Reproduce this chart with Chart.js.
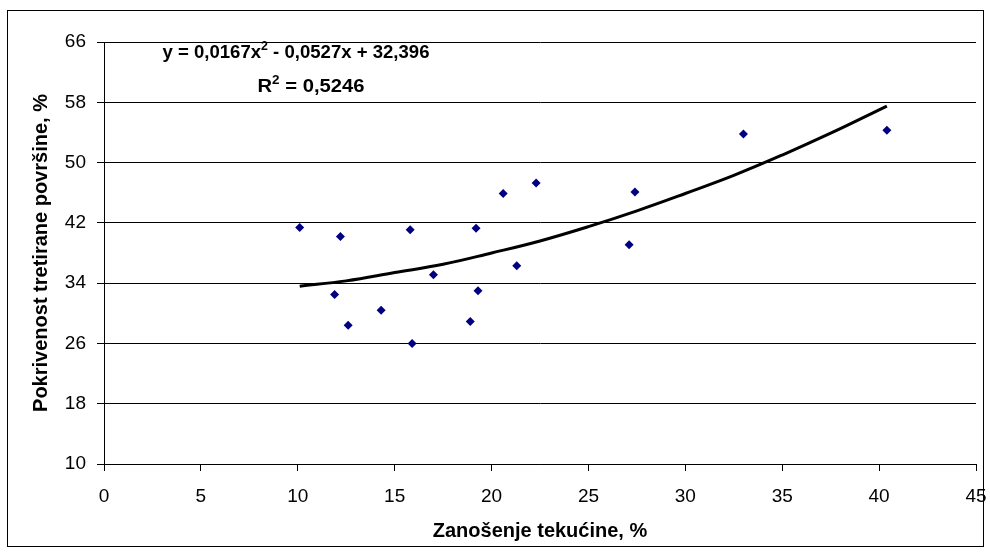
<!DOCTYPE html>
<html>
<head>
<meta charset="utf-8">
<script src="https://cdn.jsdelivr.net/npm/chart.js@4/dist/chart.umd.min.js"></script>
<style>
  body { margin: 0; background: #fff; }
</style>
</head>
<body>
<canvas id="chart" width="990" height="555"></canvas>
<script>
// measured points (x = Zanošenje tekućine, y = Pokrivenost)
var drift = [10.1, 12.2, 11.9, 12.6, 14.3, 15.8, 15.9, 17.0, 18.9, 19.2, 19.3, 20.6, 21.3, 22.3, 27.1, 27.4, 33.0, 40.4];
var coverage = [41.4, 40.2, 32.5, 28.4, 30.4, 41.1, 26.0, 35.1, 28.9, 41.3, 33.0, 45.9, 36.3, 47.3, 39.1, 46.1, 53.8, 54.3];

// trend line
var trendX = [10.1, 12.5, 15, 17.5, 20, 22.5, 25, 27.5, 30, 32.5, 35, 37.5, 40.4];
var trendY = [33.6, 34.3, 35.4, 36.5, 38.0, 39.6, 41.5, 43.6, 45.9, 48.3, 51.0, 53.9, 57.5];

var yTicks = [10, 18, 26, 34, 42, 50, 58, 66];

// trend label pieces: [text, superscript]
var eqParts = [['y = 0,0167x', false], ['2', true], [' - 0,0527x + 32,396', false]];
var r2Parts = [['R', false], ['2', true], [' = 0,5246', false]];

var FONT = '"Liberation Sans", Arial, sans-serif';

var points = drift.map(function(x, i){ return {x: x, y: coverage[i]}; });
var trend = trendX.map(function(x, i){ return {x: x, y: trendY[i]}; });

function drawParts(ctx, parts, cx, baseline, targetW){
    var widths = parts.map(function(p){
        ctx.font = p[1] ? 'bold 12px ' + FONT : 'bold 18px ' + FONT;
        return ctx.measureText(p[0]).width;
    });
    var total = widths.reduce(function(a, b){ return a + b; }, 0);
    var sx = targetW / total;
    ctx.save();
    ctx.translate(cx - targetW / 2, baseline);
    ctx.scale(sx, 1);
    var x = 0;
    parts.forEach(function(p, i){
        ctx.font = p[1] ? 'bold 12px ' + FONT : 'bold 18px ' + FONT;
        ctx.fillText(p[0], x, p[1] ? -8 : 0);
        x += widths[i];
    });
    ctx.restore();
}

var extras = {
    id: 'extras',
    beforeDraw: function(chart){
        var ctx = chart.ctx;
        ctx.save();
        ctx.fillStyle = '#fff';
        ctx.fillRect(0, 0, chart.width, chart.height);
        ctx.restore();
    },
    afterDraw: function(chart){
        var ctx = chart.ctx;
        ctx.save();
        ctx.strokeStyle = '#000';
        ctx.lineWidth = 1;
        ctx.strokeRect(7.5, 10.5, 976, 536);
        ctx.fillStyle = '#000';
        ctx.textAlign = 'left';
        ctx.textBaseline = 'alphabetic';
        drawParts(ctx, eqParts, 296, 58, 267);
        drawParts(ctx, r2Parts, 311, 92, 107);
        ctx.restore();
    }
};

var ctx = document.getElementById('chart').getContext('2d');
var myChart = new Chart(ctx, {
    type: 'scatter',
    data: {
        datasets: [{
            label: 'data',
            data: points,
            backgroundColor: '#000080',
            borderColor: '#000080',
            pointStyle: 'rectRot',
            pointRadius: 4.5,
            borderWidth: 0,
            order: 1
        }, {
            type: 'line',
            label: 'trend',
            data: trend,
            borderColor: '#000',
            borderWidth: 3,
            pointRadius: 0,
            tension: 0.4,
            fill: false,
            order: 2
        }]
    },
    plugins: [extras],
    options: {
        responsive: false,
        animation: false,
        layout: { padding: { left: 10, top: 42, right: 14, bottom: 12 } },
        plugins: {
            legend: { display: false },
            tooltip: { enabled: false }
        },
        scales: {
            x: {
                type: 'linear',
                min: 0,
                max: 45,
                afterFit: function(scale){
                    scale.height = 79;
                    scale.paddingLeft = 0;
                    scale.paddingRight = 0;
                },
                ticks: {
                    stepSize: 5,
                    color: '#000',
                    padding: 14,
                    maxRotation: 0,
                    font: { family: FONT, size: 19 }
                },
                grid: {
                    drawOnChartArea: false,
                    drawTicks: true,
                    tickLength: 7,
                    color: '#000'
                },
                border: { display: true, color: '#000', width: 1 },
                title: {
                    display: true,
                    text: 'Zanošenje tekućine, %',
                    color: '#000',
                    padding: { top: 0, bottom: 0 },
                    font: { family: FONT, size: 20, weight: 'bold' }
                }
            },
            y: {
                type: 'linear',
                min: 10,
                max: 66,
                afterFit: function(scale){
                    scale.width = 94;
                    scale.paddingTop = 0;
                    scale.paddingBottom = 0;
                },
                afterBuildTicks: function(scale){
                    scale.ticks = yTicks.map(function(v){ return {value: v}; });
                },
                ticks: {
                    color: '#000',
                    padding: 11,
                    font: { family: FONT, size: 19 }
                },
                grid: {
                    color: '#000',
                    lineWidth: 1,
                    drawTicks: true,
                    tickLength: 7
                },
                border: { display: true, color: '#000', width: 1 },
                title: {
                    display: true,
                    text: 'Pokrivenost tretirane površine, %',
                    color: '#000',
                    padding: { top: 19, bottom: 0 },
                    font: { family: FONT, size: 20, weight: 'bold' }
                }
            }
        }
    }
});
</script>
</body>
</html>
